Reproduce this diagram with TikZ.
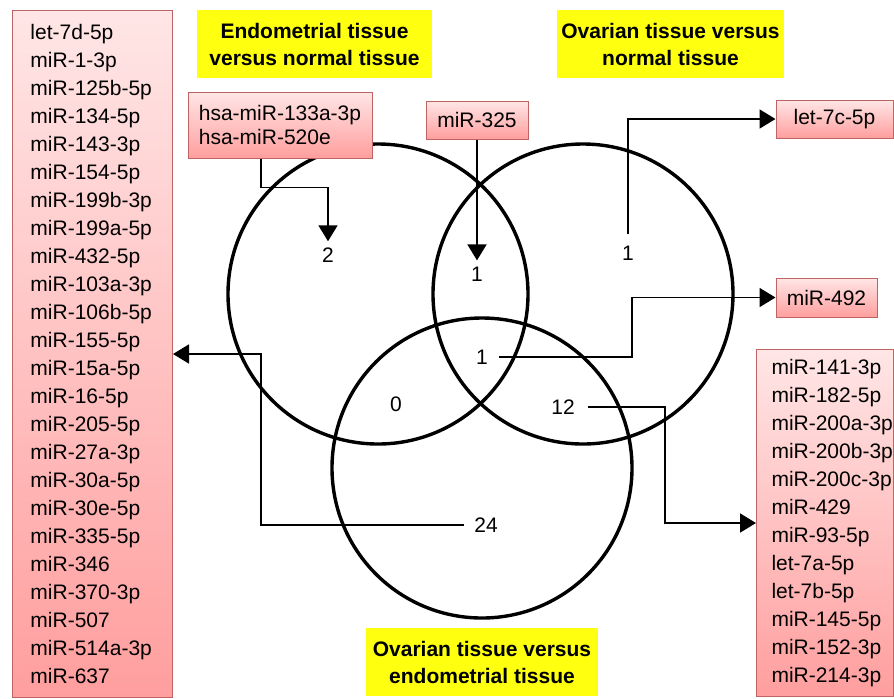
\documentclass[tikz,border=0pt]{standalone}
\usepackage{fontspec}
\setmainfont{Liberation Sans}
\usetikzlibrary{arrows.meta}
\definecolor{pinktop}{RGB}{255,230,230}
\definecolor{pinkbot}{RGB}{255,158,158}
\definecolor{pinkline}{RGB}{190,100,100}
\definecolor{titleyellow}{RGB}{255,255,16}

\begin{document}
\begin{tikzpicture}[x=0.5pt, y=-0.5pt,
	ring/.style 	= {line width=1.7pt},
	link/.style 	= {line width=0.9pt, -{Triangle[length=8pt, width=9.5pt]}},
	tally/.style 	= {inner sep=3pt, font=\fontsize{10.5}{12}\selectfont},
	tagbox/.style 	= {draw=pinkline, line width=0.5pt, top color=pinktop, bottom color=pinkbot,
		inner sep=0pt, align=left, font=\fontsize{10.5}{12}\selectfont},
	listbox/.style 	= {tagbox, anchor=north west, font=\fontsize{10.5}{14}\selectfont,
		execute at begin node={\leftskip=#1\exhyphenpenalty=10000\relax}},
	headbox/.style 	= {fill=titleyellow, inner sep=0pt, align=center, minimum height=34pt,
		font=\fontsize{10.5}{13.5}\selectfont\bfseries}]
	
	\useasboundingbox (0,0) rectangle (894,698);
	
	\node[headbox, minimum width=117.5pt] (endo) at (314.5,44) {Endometrial tissue\\versus normal tissue};
	\node[headbox, minimum width=113.5pt] (ovar) at (670.5,44) {Ovarian tissue versus\\normal tissue};
	\node[headbox, minimum width=116pt] (ovend) at (482,662) {Ovarian tissue versus\\endometrial tissue};
	
	\draw[ring] (378,294) circle[radius=150];
	\draw[ring] (583,294) circle[radius=150];
	\draw[ring] (482,468) circle[radius=150];
	
	\node[tally] (n2) at (328,255) {2};
	\node[tally] (n1a) at (477,274) {1};
	\node[tally] (n1b) at (628,253) {1};
	\node[tally] (n1c) at (482,357) {1};
	\node[tally] (n0) at (396,404) {0};
	\node[tally] (n12) at (563,407) {12};
	\node[tally] (n24) at (486,525) {24};
	
	\node[tagbox, minimum width=92pt, minimum height=33pt] (hsa) at (280,125) {hsa-miR-133a-3p\\hsa-miR-520e};
	\node[tagbox, minimum width=51pt, minimum height=19pt] (m325) at (477,120) {miR-325};
	\node[tagbox, minimum width=58.5pt, minimum height=19pt] (let7c) at (834.5,119) {let-7c-5p};
	\node[tagbox, minimum width=50.5pt, minimum height=19.5pt] (m492) at (826.5,297.5) {miR-492};
	
	\node[listbox=9pt, text width=80pt, minimum height=343.5pt] (lbox) at (12,10)
		{let-7d-5p\\miR-1-3p\\miR-125b-5p\\miR-134-5p\\miR-143-3p\\miR-154-5p\\miR-199b-3p\\miR-199a-5p\\
		miR-432-5p\\miR-103a-3p\\miR-106b-5p\\miR-155-5p\\miR-15a-5p\\miR-16-5p\\miR-205-5p\\miR-27a-3p\\
		miR-30a-5p\\miR-30e-5p\\miR-335-5p\\miR-346\\miR-370-3p\\miR-507\\miR-514a-3p\\miR-637};
	\node[listbox=7.5pt, text width=68.5pt, minimum height=173.5pt] (rbox) at (756,349)
		{miR-141-3p\\miR-182-5p\\miR-200a-3p\\miR-200b-3p\\miR-200c-3p\\miR-429\\
		miR-93-5p\\let-7a-5p\\let-7b-5p\\miR-145-5p\\miR-152-3p\\miR-214-3p};
	
	\draw[link] ([xshift=-9.5pt]hsa.south) -- ++(0,29) -| (n2.north);
	\draw[link] (m325.south) -- (n1a.north);
	\draw[link, shorten <=2.5pt] (n1b.north) |- (let7c.west);
	\draw[link, shorten <=2.5pt] (n1c.east) -- ++(138,0) |- (m492.west);
	\draw[link, shorten <=3.5pt] (n12.east) -- ++(84,0) |- (rbox.west);
	\draw[link, shorten <=2pt] (n24.west) -- ++(-207,0) |- (lbox.east);
	
\end{tikzpicture}
\end{document}
